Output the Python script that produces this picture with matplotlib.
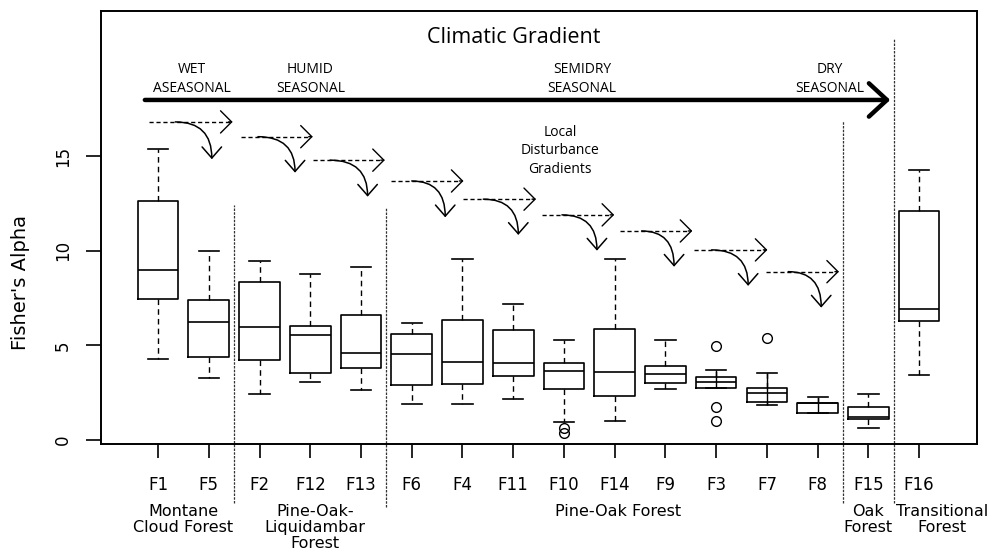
import numpy as np
import matplotlib
matplotlib.use('Agg')
import matplotlib.pyplot as plt
from matplotlib.patches import FancyArrowPatch
from matplotlib.path import Path

# sites, ordered along the climatic gradient
sites = ['F1', 'F5', 'F2', 'F12', 'F13', 'F6', 'F4', 'F11', 'F10', 'F14',
         'F9', 'F3', 'F7', 'F8', 'F15', 'F16']
whis_hi = [15.37, 10.00, 9.47, 8.75, 9.16, 6.20, 9.56, 7.18, 5.30, 9.54,
           5.28, 3.70, 3.56, 2.29, 2.41, 14.28]
q3 = [12.64, 7.38, 8.36, 6.02, 6.60, 5.58, 6.34, 5.83, 4.09, 5.88,
      3.93, 3.33, 2.76, 1.97, 1.74, 12.10]
med = [8.98, 6.22, 5.99, 5.56, 4.61, 4.54, 4.14, 4.05, 3.66, 3.58,
       3.47, 3.05, 2.47, 1.93, 1.23, 6.94]
q1 = [7.45, 4.40, 4.23, 3.56, 3.78, 2.91, 2.98, 3.36, 2.69, 2.34,
      3.00, 2.75, 2.03, 1.44, 1.09, 6.29]
whis_lo = [4.30, 3.29, 2.43, 3.05, 2.64, 1.90, 1.88, 2.17, 0.93, 1.02,
           2.68, 2.75, 1.85, 1.40, 0.62, 3.43]
outliers = {'F10': [0.65, 0.35], 'F3': [4.98, 1.73, 1.00], 'F7': [5.40]}

forest_types = ['Montane\nCloud Forest', 'Pine-Oak-\nLiquidambar\nForest',
                'Pine-Oak Forest', 'Oak\nForest', 'Transitional\nForest']
climate_zones = ['WET\nASEASONAL', 'HUMID\nSEASONAL', 'SEMIDRY\nSEASONAL',
                 'DRY\nSEASONAL']

fig = plt.figure(figsize=(10.04, 5.54), dpi=100)
ax = fig.add_axes([0.1006, 0.1986, 0.8725, 0.7816])

pos = np.arange(1, len(sites) + 1)
stats = []
for s, lo, a, m, b, hi in zip(sites, whis_lo, q1, med, q3, whis_hi):
    stats.append(dict(label=s, whislo=lo, q1=a, med=m, q3=b, whishi=hi,
                      fliers=outliers.get(s, [])))

# short whiskers in F3/F7/F8 are drawn solid straight through the box
for i, s in enumerate(sites):
    if s in ('F3', 'F7', 'F8'):
        ax.vlines(pos[i], whis_lo[i], whis_hi[i], color='k', lw=1.0)

ax.bxp(stats, positions=pos, widths=0.8, capwidths=0.4,
       boxprops=dict(color='k', lw=1.2),
       medianprops=dict(color='k', lw=1.2),
       whiskerprops=dict(color='k', lw=1.0, linestyle=(0, (4, 3))),
       capprops=dict(color='k', lw=1.2),
       flierprops=dict(marker='o', mfc='none', mec='k', ms=7, mew=1.0))

ax.set_xlim(-0.124, 17.14)
ax.set_ylim(-0.211, 22.66)
ax.set_xticks(pos)
ax.set_xticklabels(sites, fontsize=12, family='DejaVu Sans')
ax.set_yticks([0, 5, 10, 15])
ax.set_yticklabels(['0', '5', '10', '15'], rotation=90, va='center',
                   fontsize=12, family='DejaVu Sans')
ax.tick_params(axis='x', length=10, width=1.2, pad=13)
ax.tick_params(axis='y', length=11, width=1.2, pad=10)
for sp in ax.spines.values():
    sp.set_linewidth(1.4)

ax.set_ylabel("Fisher's Alpha", fontsize=14, family='DejaVu Sans')
ax.yaxis.set_label_coords(-0.081, 0.373)

# forest-type dividers
div_x = [2.5, 5.5, 14.5, 15.5]
div_top = [12.4, 12.25, 16.87, 21.2]
div_bot = [-3.33, -3.54, -3.33, -3.33]
ax.vlines(div_x, div_bot, div_top, colors='#333333', lw=0.9,
          linestyles=(0, (2, 1)), clip_on=False)

# forest-type labels under the site names
ft_x = [1.5, 4.1, 10.07, 15.0, 16.45]
for lab, x in zip(forest_types, ft_x):
    ax.text(x, -3.38, lab, ha='center', va='top', fontsize=11.5,
            family='DejaVu Sans', linespacing=1.08, clip_on=False)

# climatic gradient arrow
ax.text(8.0, 21.24, 'Climatic Gradient', ha='center', va='center',
        fontsize=15.5, family='Open Sans')
ax.add_patch(FancyArrowPatch((0.74, 17.96), (15.43, 17.96),
                             arrowstyle='->,head_length=13,head_width=12',
                             mutation_scale=1, lw=3.2, color='k',
                             shrinkA=0, shrinkB=0))
cz_x = [1.67, 4.0, 9.36, 14.24]
for lab, x in zip(climate_zones, cz_x):
    ax.text(x, 19.07, lab, ha='center', va='center', fontsize=10,
            family='Open Sans', linespacing=1.3)

# local disturbance gradient arrows
ax.text(8.92, 15.27, 'Local\nDisturbance\nGradients', ha='center',
        va='center', fontsize=10, family='Open Sans', linespacing=1.35)
dash_y = [16.80, 16.02, 14.78, 13.68, 12.72, 11.89, 11.04, 10.04, 8.89]
dash_x0 = [0.82, 2.63, 4.05, 5.59, 7.02, 8.56, 10.11, 11.57, 12.98]
dash_x1 = [2.47, 4.05, 5.47, 7.02, 8.45, 9.99, 11.53, 13.01, 14.42]
curve_x0 = [1.34, 2.97, 4.39, 6.00, 7.41, 8.96, 10.53, 11.91, 13.42]
curve_x1 = [2.06, 3.70, 5.13, 6.66, 8.10, 9.65, 11.17, 12.63, 14.07]
curve_y1 = [14.83, 14.12, 12.85, 11.76, 10.83, 10.00, 9.15, 8.14, 6.99]
for y, xa, xb, cx0, cx1, cy1 in zip(dash_y, dash_x0, dash_x1,
                                    curve_x0, curve_x1, curve_y1):
    ax.plot([xa, xb - 0.05], [y, y], color='k', lw=1.0,
            linestyle=(0, (3, 2)))
    ax.add_patch(FancyArrowPatch((xb - 0.08, y), (xb, y),
                                 arrowstyle='->,head_length=8,head_width=8',
                                 mutation_scale=1, lw=1.0, color='k',
                                 shrinkA=0, shrinkB=0))
    p = Path([(cx0, y), (cx1, y), (cx1, cy1)],
             [Path.MOVETO, Path.CURVE3, Path.CURVE3])
    ax.add_patch(FancyArrowPatch(path=p,
                                 arrowstyle='->,head_length=8,head_width=7',
                                 mutation_scale=1, lw=1.1, color='k'))

fig.savefig('out.png', dpi=100)
